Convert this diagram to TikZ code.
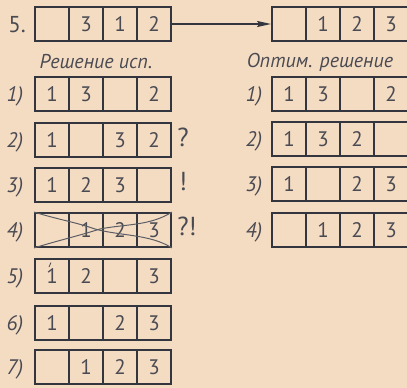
\documentclass[tikz,border=0pt]{standalone}
\usepackage{fontspec}
\setmainfont{PT Sans}
\usetikzlibrary{arrows.meta}
\definecolor{paper}{HTML}{F4DCC3}
\definecolor{ink}{HTML}{34363F}
\definecolor{txt}{HTML}{4A4A52}
\tikzset{
  cell/.style={draw=ink, line width=1.8pt, minimum width=34pt, minimum height=34pt, inner sep=0pt,
    font=\fontsize{21}{21}\selectfont, text=txt},
  lbl/.style={font=\itshape\fontsize{21}{21}\selectfont, text=txt, inner sep=0pt},
  hdr/.style={font=\itshape\fontsize{20}{20}\selectfont, text=txt, inner sep=0pt},
  sign/.style={font=\fontsize{26}{26}\selectfont, text=txt, inner sep=0pt},
  cross/.style={draw=ink!80, line width=1pt}
}
\begin{document}
\begin{tikzpicture}[x=1pt,y=-1pt]
\useasboundingbox[fill=paper] (0,0) rectangle (407,388);
% top row
\foreach \n/\t [count=\i] in {a/,b/3,c/1,d/2}{
  \node[cell] (T-\i) at ({35+17+34*(\i-1)},24) {\t};
}
\foreach \n/\t [count=\i] in {a/,b/1,c/2,d/3}{
  \node[cell] (U-\i) at ({272+17+34*(\i-1)},24) {\t};
}
\node[font=\fontsize{23}{23}\selectfont, text=txt, inner sep=0pt] (five) at (17,25) {5.};
\draw[ink, line width=1.8pt, -{Stealth[length=14pt,width=6pt,inset=2pt]}] (T-4.east) -- (U-1.west);
\node[hdr] (h1) at (96,62) {Решение исп.};
\node[hdr] (h2) at (320,62) {Оптим. решение};
% left rows
\foreach \r/\y/\a/\b/\c/\d in {1/94/1/3//2, 2/140/1//3/2, 3/185/1/2/3/, 4/230//1/2/3, 5/276/1/2//3, 6/323/1//2/3, 7/367//1/2/3}{
  \node[cell] (L\r-1) at (52,\y) {\a};
  \node[cell] (L\r-2) at (86,\y) {\b};
  \node[cell] (L\r-3) at (120,\y) {\c};
  \node[cell] (L\r-4) at (154,\y) {\d};
  \node[lbl] (LL\r) at (15,\y+2) {\r)};
}
% right rows
\foreach \r/\y/\a/\b/\c/\d in {1/94/1/3//2, 2/139/1/3/2/, 3/184/1//2/3, 4/230//1/2/3}{
  \node[cell] (R\r-1) at (289,\y) {\a};
  \node[cell] (R\r-2) at (323,\y) {\b};
  \node[cell] (R\r-3) at (357,\y) {\c};
  \node[cell] (R\r-4) at (391,\y) {\d};
  \node[lbl] (RL\r) at (254,\y+2) {\r)};
}
% marks
\node[sign] (q2) at (183,137) {?};
\node[sign] (q3) at (183,182) {!};
\node[sign] (q4) at (187,226) {?!};
% crossing lines on row 4
\draw[cross] (L4-1.north west) .. controls (60,220) and (75,222) .. (95,229)
  .. controls (120,236) and (150,234) .. (L4-4.south east);
\draw[cross] (L4-1.south west) .. controls (60,240) and (78,236) .. (100,229)
  .. controls (125,224) and (150,226) .. (L4-4.north east);
% small tick on the 1 in row 5
\draw[txt, line width=0.8pt] (49,267) -- (51,262.5);
\end{tikzpicture}
\end{document}
